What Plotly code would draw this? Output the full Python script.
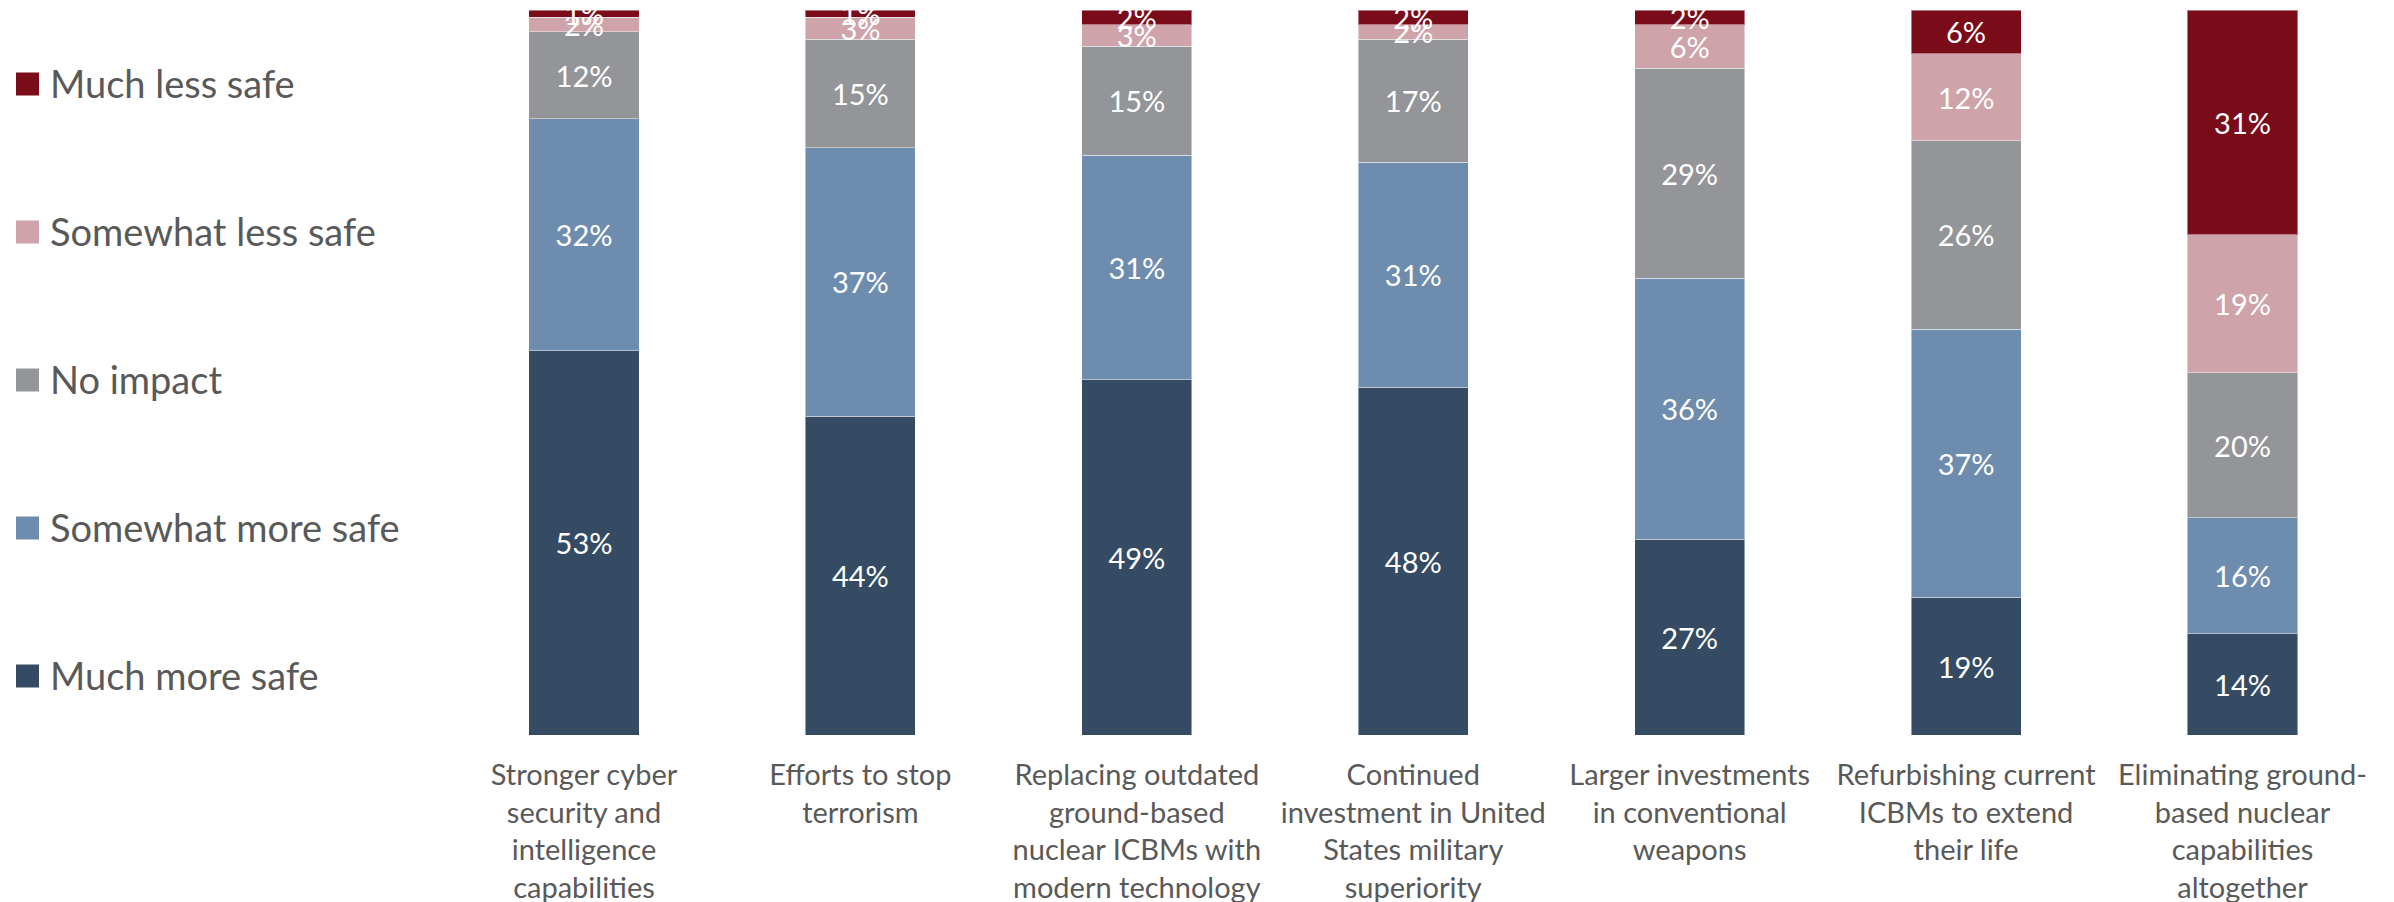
import plotly.graph_objects as go

# Survey items (x-axis categories)
categories = [
    "Stronger cyber<br>security and<br>intelligence<br>capabilities",
    "Efforts to stop<br>terrorism",
    "Replacing outdated<br>ground-based<br>nuclear ICBMs with<br>modern technology",
    "Continued<br>investment in United<br>States military<br>superiority",
    "Larger investments<br>in conventional<br>weapons",
    "Refurbishing current<br>ICBMs to extend<br>their life",
    "Eliminating ground-<br>based nuclear<br>capabilities<br>altogether",
]

# Share of respondents (%) per response, stacked bottom to top
much_more_safe = [53, 44, 49, 48, 27, 19, 14]
somewhat_more_safe = [32, 37, 31, 31, 36, 37, 16]
no_impact = [12, 15, 15, 17, 29, 26, 20]
somewhat_less_safe = [2, 3, 3, 2, 6, 12, 19]
much_less_safe = [1, 1, 2, 2, 2, 6, 31]

series = [
    ("Much more safe", much_more_safe, "#344B63"),
    ("Somewhat more safe", somewhat_more_safe, "#6E8DAE"),
    ("No impact", no_impact, "#939598"),
    ("Somewhat less safe", somewhat_less_safe, "#CFA3AA"),
    ("Much less safe", much_less_safe, "#7A0C1A"),
]

W, H = 2394, 902
PLOT_TOP, PLOT_BOTTOM = 10, 735
PLOT_H = PLOT_BOTTOM - PLOT_TOP
X0, X1 = 445.8, 2380.7

fig = go.Figure()
x_idx = list(range(len(categories)))
for name, vals, color in series:
    fig.add_trace(go.Bar(
        name=name,
        x=x_idx,
        y=vals,
        marker=dict(color=color, line=dict(color="rgba(255,255,255,0.45)", width=1)),
        text=[f"{v}%" for v in vals],
        textposition="inside",
        insidetextanchor="middle",
        constraintext="none",
        textangle=0,
        textfont=dict(family="Lato", size=29, color="white"),
        cliponaxis=True,
        showlegend=False,
        hoverinfo="skip",
    ))

# Legend drawn at the left: colour square + label, top item first
legend_font = dict(family="Lato", size=38, color="#595959")
shapes, annotations = [], []
for i, (name, vals, color) in enumerate(reversed(series)):
    cy = 84 + i * 148
    yc = (PLOT_BOTTOM - cy) / PLOT_H
    half = 11.5 / PLOT_H
    shapes.append(dict(
        type="rect", xref="paper", yref="paper",
        x0=16 / W, x1=39 / W, y0=yc - half, y1=yc + half,
        fillcolor=color, line=dict(width=0),
    ))
    annotations.append(dict(
        text=name, xref="paper", yref="paper",
        x=48 / W, y=yc + 1 / PLOT_H, xanchor="left", yanchor="middle",
        showarrow=False, font=legend_font,
    ))

fig.update_layout(
    width=W, height=H,
    barmode="stack",
    bargap=0.602,
    plot_bgcolor="white",
    paper_bgcolor="white",
    margin=dict(l=0, r=0, t=PLOT_TOP, b=H - PLOT_BOTTOM, autoexpand=False),
    shapes=shapes,
    annotations=annotations,
    xaxis=dict(
        domain=[X0 / W, X1 / W],
        tickmode="array",
        tickvals=x_idx,
        ticktext=categories,
        range=[-0.5, len(categories) - 0.5],
        showline=False, showgrid=False, zeroline=False,
        ticks="",
        ticklabelstandoff=20,
        tickfont=dict(family="Lato", size=29, color="#595959"),
        automargin=False,
    ),
    yaxis=dict(
        range=[0, 100],
        visible=False,
        showgrid=False, zeroline=False,
    ),
)

fig.write_html("out.html")
